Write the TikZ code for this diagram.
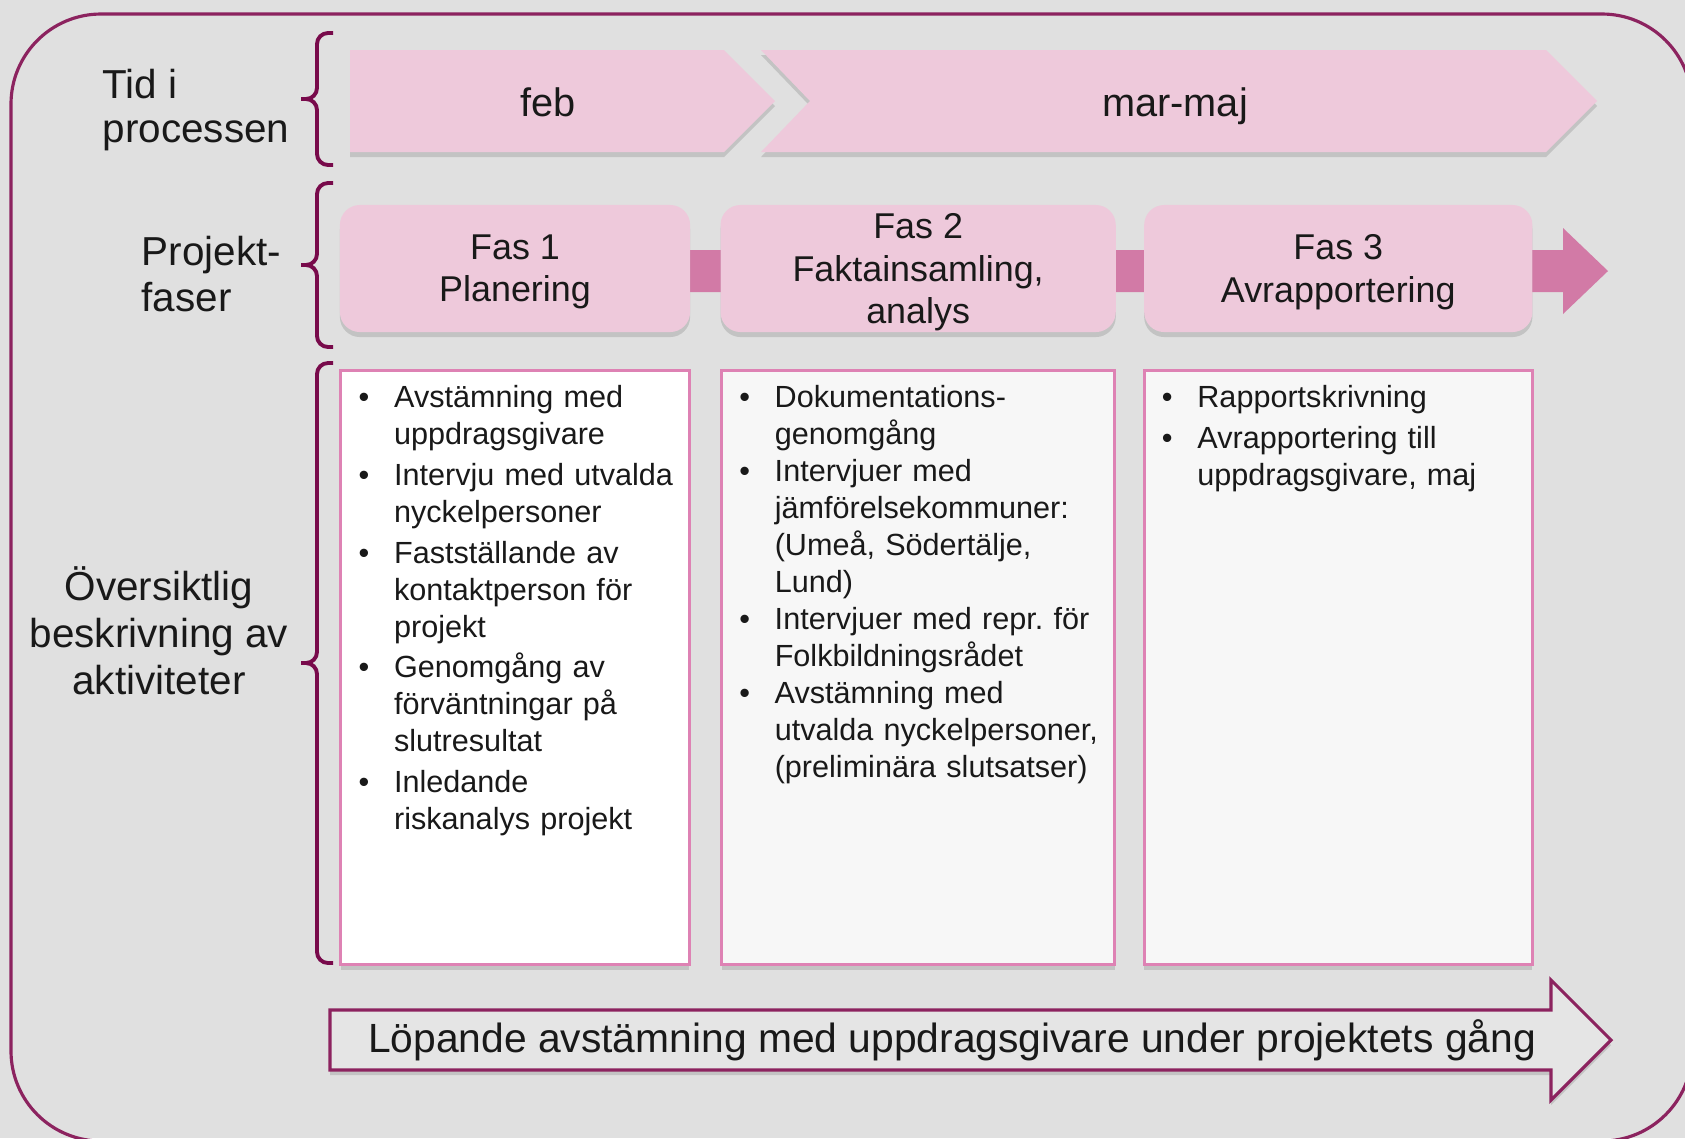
\documentclass[tikz,border=0pt]{standalone}
\usepackage{fontspec}
\setmainfont{Liberation Sans}
\usetikzlibrary{positioning, shadows}

\definecolor{bggray}{RGB}{224,224,224}
\definecolor{plum}{RGB}{140,35,95}
\definecolor{bracecol}{RGB}{120,10,75}
\definecolor{lightpink}{RGB}{238,201,219}
\definecolor{midpink}{RGB}{210,122,166}
\definecolor{boxpink}{RGB}{222,130,180}
\definecolor{boxgray}{RGB}{247,247,247}
\definecolor{arrowgray}{RGB}{229,229,229}
\definecolor{txt}{RGB}{25,25,25}

\frenchspacing
\newcommand{\actitem}[2][1.1pt]{\par\lineskip=0pt\noindent\makebox[0.355cm][l]{•}\parbox[t]{3.6cm}{\strut#2\strut}\par\vspace{#1}}

\begin{document}
\begin{tikzpicture}[x=0.01cm, y=-0.01cm,
  frame/.style={draw=plum, line width=0.9pt, rounded corners=0.9cm},
  softshadow/.style={drop shadow={shadow xshift=0pt, shadow yshift=-0.05cm, fill=black, opacity=0.13}},
  sidetext/.style={inner sep=0pt, text=txt, font=\fontsize{11.5pt}{13.3pt}\selectfont},
  chevron/.style={fill=lightpink, softshadow},
  timetext/.style={inner sep=0pt, anchor=base, text=txt, font=\fontsize{11.3pt}{13pt}\selectfont},
  fas/.style={rectangle, rounded corners=0.2cm, fill=lightpink, inner sep=0pt, minimum height=1.27cm, align=center, text depth=-2.5pt, text=txt, font=\fontsize{10.2pt}{12pt}\selectfont, softshadow},
  actbox/.style={rectangle, draw=boxpink, line width=0.85pt, minimum height=5.94cm, inner sep=0pt, softshadow},
  acttext/.style={inner sep=0pt, text width=4cm, align=left, text=txt, font=\fontsize{8.7pt}{10.5pt}\selectfont},
  bracket/.style={draw=bracecol, line width=1.1pt, rounded corners=0.11cm},
  runarrow/.style={draw=plum, line width=0.9pt, fill=arrowgray, softshadow},
  runtext/.style={inner sep=0pt, text=txt, font=\fontsize{11.6pt}{13pt}\selectfont}]

\fill[bggray] (0,0) rectangle (1685,1138);
\useasboundingbox (0,0) rectangle (1685,1138);
\draw[frame] (11,14) rectangle (1692,1141);

\fill[chevron] (350,50) -- (724,50) -- (775,101) -- (724,152) -- (350,152) -- cycle;
\fill[chevron] (761,50) -- (1546,50) -- (1597,101) -- (1546,152) -- (761,152) -- (810,101) -- cycle;
\node[timetext] (feb) at (548,116.5) {feb};
\node[timetext] (marmaj) at (1175,116.5) {mar-maj};

\fill[midpink] (680,250) -- (1563,250) -- (1563,228) -- (1608,271) -- (1563,314) -- (1563,292) -- (680,292) -- cycle;

\node[fas, minimum width=3.5cm] (fas1) at (515,268.5) {Fas 1\\Planering};
\node[fas, minimum width=3.95cm, right=0.29cm of fas1] (fas2) {Fas 2\\Faktainsamling,\\analys};
\node[fas, minimum width=3.88cm, right=0.27cm of fas2] (fas3) {Fas 3\\Avrapportering};

\node[actbox, fill=white, minimum width=3.48cm, below=0.36cm of fas1] (box1) {};
\node[actbox, fill=boxgray, minimum width=3.93cm, below=0.36cm of fas2] (box2) {};
\node[actbox, fill=boxgray, minimum width=3.88cm, below=0.36cm of fas3] (box3) {};

\node[acttext, below right=0.015cm and 0.185cm of box1.north west] (list1) {%
  \actitem{Avstämning med\\uppdragsgivare}
  \actitem{Intervju med utvalda\\nyckelpersoner}
  \actitem{Fastställande av\\kontaktperson för\\projekt}
  \actitem{Genomgång av\\förväntningar på\\slutresultat}
  \actitem{Inledande\\riskanalys projekt}};
\node[acttext, below right=0.015cm and 0.185cm of box2.north west] (list2) {%
  \actitem[0pt]{Dokumentations-\\genomgång}
  \actitem[0pt]{Intervjuer med\\jämförelsekommuner:\\(Umeå, Södertälje,\\Lund)}
  \actitem[0pt]{Intervjuer med repr. för\\Folkbildningsrådet}
  \actitem[0pt]{Avstämning med\\utvalda nyckelpersoner,\\(preliminära slutsatser)}};
\node[acttext, below right=0.015cm and 0.185cm of box3.north west] (list3) {%
  \actitem{Rapportskrivning}
  \actitem{Avrapportering till\\uppdragsgivare, maj}};

\draw[bracket] (333,33) -| (317,99) -- (301,99) (333,165) -| (317,99) -- (301,99);
\draw[bracket] (333,183) -| (317,265) -- (301,265) (333,347) -| (317,265) -- (301,265);
\draw[bracket] (333,363) -| (317,663) -- (301,663) (333,963) -| (317,663) -- (301,663);

\node[sidetext, anchor=west, align=left, font=\fontsize{11.5pt}{12.7pt}\selectfont] (tid) at (102,110) {Tid i\\processen};
\node[sidetext, anchor=west, align=left] (faser) at (141,274) {Projekt-\\faser};
\node[sidetext, align=center] (oversikt) at (159,631) {Översiktlig\\beskrivning av\\aktiviteter};

\draw[runarrow] (330,1010) -- (1551,1010) -- (1551,980) -- (1611,1040) -- (1551,1100) -- (1551,1070) -- (330,1070) -- cycle;
\node[runtext] (lopande) at (952,1040) {Löpande avstämning med uppdragsgivare under projektets gång};
\end{tikzpicture}
\end{document}
